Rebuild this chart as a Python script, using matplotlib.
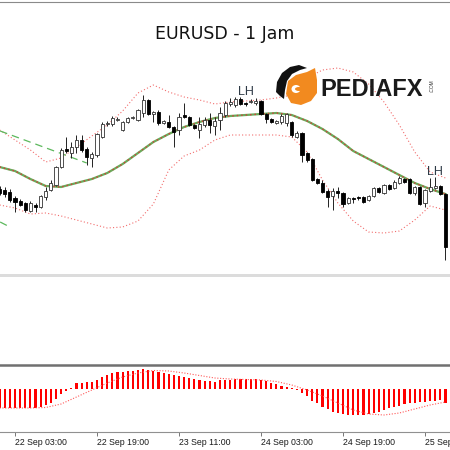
import numpy as np
import matplotlib
matplotlib.use('Agg')
import matplotlib.pyplot as plt
from matplotlib.patches import Polygon, Rectangle, Ellipse

# EURUSD H1 candles, one per hour starting 22 Sep 00:00
opens = [1.1711, 1.1710, 1.1708, 1.1702, 1.1699, 1.1697, 1.1689, 1.1695, 1.1693, 1.1703,
         1.1710, 1.1715, 1.1733, 1.1751, 1.1747, 1.1753, 1.1760, 1.1751, 1.1742, 1.1745,
         1.1763, 1.1776, 1.1776, 1.1780, 1.1770, 1.1778, 1.1782, 1.1780, 1.1787, 1.1800,
         1.1786, 1.1788, 1.1777, 1.1778, 1.1773, 1.1770, 1.1785, 1.1783, 1.1775, 1.1770,
         1.1775, 1.1780, 1.1774, 1.1780, 1.1785, 1.1796, 1.1795, 1.1801, 1.1797, 1.1798,
         1.1797, 1.1799, 1.1786, 1.1781, 1.1777, 1.1778, 1.1777, 1.1778, 1.1763, 1.1767,
         1.1747, 1.1741, 1.1721, 1.1717, 1.1709, 1.1704, 1.1709, 1.1707, 1.1697, 1.1702,
         1.1703, 1.1703, 1.1700, 1.1704, 1.1712, 1.1707, 1.1715, 1.1712, 1.1717, 1.1721,
         1.1721, 1.1707, 1.1713, 1.1697, 1.1709, 1.1712, 1.1714, 1.1706]
highs = [1.1714, 1.1713, 1.1711, 1.1704, 1.1701, 1.1698, 1.1699, 1.1697, 1.1705, 1.1713,
         1.1720, 1.1734, 1.1752, 1.1763, 1.1758, 1.1765, 1.1765, 1.1753, 1.1748, 1.1767,
         1.1778, 1.1779, 1.1784, 1.1783, 1.1779, 1.1783, 1.1784, 1.1791, 1.1805, 1.1801,
         1.1789, 1.1790, 1.1780, 1.1785, 1.1774, 1.1787, 1.1797, 1.1784, 1.1776, 1.1783,
         1.1783, 1.1787, 1.1783, 1.1793, 1.1799, 1.1802, 1.1803, 1.1803, 1.1798, 1.1801,
         1.1802, 1.1800, 1.1787, 1.1782, 1.1780, 1.1786, 1.1787, 1.1779, 1.1769, 1.1768,
         1.1748, 1.1742, 1.1722, 1.1720, 1.1711, 1.1712, 1.1713, 1.1708, 1.1703, 1.1703,
         1.1704, 1.1704, 1.1705, 1.1713, 1.1713, 1.1716, 1.1716, 1.1720, 1.1724, 1.1722,
         1.1722, 1.1714, 1.1714, 1.1711, 1.1722, 1.1723, 1.1715, 1.1707]
lows = [1.1705, 1.1703, 1.1698, 1.1688, 1.1694, 1.1688, 1.1688, 1.1688, 1.1692, 1.1700,
        1.1709, 1.1714, 1.1732, 1.1747, 1.1742, 1.1747, 1.1748, 1.1735, 1.1733, 1.1743,
        1.1762, 1.1774, 1.1774, 1.1779, 1.1769, 1.1777, 1.1781, 1.1779, 1.1783, 1.1785,
        1.1778, 1.1775, 1.1776, 1.1772, 1.1753, 1.1765, 1.1782, 1.1774, 1.1771, 1.1762,
        1.1773, 1.1767, 1.1765, 1.1770, 1.1783, 1.1794, 1.1793, 1.1795, 1.1794, 1.1797,
        1.1795, 1.1785, 1.1777, 1.1777, 1.1776, 1.1776, 1.1774, 1.1763, 1.1762, 1.1738,
        1.1738, 1.1719, 1.1716, 1.1707, 1.1693, 1.1690, 1.1702, 1.1693, 1.1696, 1.1697,
        1.1700, 1.1697, 1.1699, 1.1703, 1.1707, 1.1706, 1.1710, 1.1711, 1.1716, 1.1717,
        1.1706, 1.1705, 1.1695, 1.1693, 1.1708, 1.1711, 1.1705, 1.1640]
closes = [1.1707, 1.1706, 1.1700, 1.1698, 1.1695, 1.1690, 1.1697, 1.1693, 1.1704, 1.1709,
          1.1717, 1.1733, 1.1750, 1.1749, 1.1753, 1.1760, 1.1750, 1.1743, 1.1746, 1.1766,
          1.1776, 1.1777, 1.1782, 1.1781, 1.1778, 1.1782, 1.1783, 1.1790, 1.1800, 1.1786,
          1.1788, 1.1777, 1.1779, 1.1773, 1.1768, 1.1783, 1.1783, 1.1775, 1.1772, 1.1776,
          1.1780, 1.1775, 1.1779, 1.1787, 1.1797, 1.1798, 1.1801, 1.1796, 1.1796, 1.1799,
          1.1799, 1.1786, 1.1781, 1.1778, 1.1779, 1.1784, 1.1786, 1.1765, 1.1767, 1.1745,
          1.1740, 1.1720, 1.1717, 1.1708, 1.1703, 1.1709, 1.1707, 1.1696, 1.1702, 1.1701,
          1.1702, 1.1698, 1.1704, 1.1712, 1.1708, 1.1715, 1.1711, 1.1718, 1.1722, 1.1718,
          1.1707, 1.1713, 1.1696, 1.1710, 1.1713, 1.1714, 1.1706, 1.1653]

# bollinger bands + middle MA, read every 3rd bar
band_bars = [0, 3, 6, 9, 12, 15, 18, 21, 24, 27, 30, 33, 36, 39, 42,
             45, 48, 51, 54, 57, 60, 63, 66, 69, 72, 75, 78, 81, 84, 87]
ma_mid = [1.1733, 1.1729, 1.1721, 1.1714, 1.1713, 1.1717, 1.1721, 1.1727, 1.1736, 1.1747,
          1.1758, 1.1766, 1.1773, 1.1778, 1.1782, 1.1784, 1.1785, 1.1786, 1.1787, 1.1785,
          1.1779, 1.1771, 1.1761, 1.1749, 1.1741, 1.1733, 1.1725, 1.1717, 1.1711, 1.1706]
bb_upper = [1.1770, 1.1760, 1.1750, 1.1738, 1.1742, 1.1753, 1.1764, 1.1775, 1.1789, 1.1807,
            1.1815, 1.1808, 1.1803, 1.1800, 1.1796, 1.1798, 1.1799, 1.1800, 1.1802, 1.1805,
            1.1822, 1.1830, 1.1832, 1.1828, 1.1816, 1.1798, 1.1775, 1.1748, 1.1728, 1.1722]
bb_lower = [1.1695, 1.1692, 1.1686, 1.1687, 1.1684, 1.1680, 1.1676, 1.1672, 1.1673, 1.1679,
            1.1696, 1.1730, 1.1744, 1.1750, 1.1760, 1.1765, 1.1765, 1.1765, 1.1765, 1.1763,
            1.1748, 1.1720, 1.1697, 1.1679, 1.1668, 1.1667, 1.1669, 1.1680, 1.1694, 1.1690]

# green dashed channel lines on the left (bar index, price)
trend_up_bars = [0.1, 17.0]
trend_up_prices = [1.1769, 1.1737]
trend_lo_bars = [0.1, 2.0]
trend_lo_prices = [1.1678, 1.1673]

lh_bars = [48, 85]
lh_prices = [1.1808, 1.1728]

# MACD main (histogram) in points, signal every 3rd bar
macd_main = [-19, -19, -19, -19, -19, -19, -19, -19, -18, -16,
             -14, -10, -5, -1.5, 1, 6, 6.5, 7, 7.5, 9.5,
             12, 14.5, 16, 17, 17, 18, 18.5, 19, 20, 19,
             18.5, 17, 16, 15.5, 14.5, 13, 12, 11, 10, 9,
             8, 8, 7.5, 9, 9, 9.5, 10, 10.5, 10.5, 10.5,
             10, 9.5, 8, 6.5, 5, 3.5, 2, 1.5, -1, -4,
             -7, -12, -14, -18, -20, -23, -24, -25, -26, -26,
             -26, -26, -25, -24, -23, -21, -19, -18, -17, -15,
             -14, -14, -13, -13, -12, -12, -11, -14]
macd_signal = [-19, -19, -19, -18.5, -15, -8, -1, 6, 12, 16,
               18.5, 18, 16, 13.5, 11, 10, 9.5, 9, 7.5, 4,
               -1, -7, -14, -21, -25, -26, -24, -20, -16, -13]

tick_bars = [3, 19, 35, 51, 67, 83]
tick_labels = ['22 Sep 03:00', '22 Sep 19:00', '23 Sep 11:00',
               '24 Sep 03:00', '24 Sep 19:00', '25 Sep 11:00']


def fy(py):
    # pixel row (from top) -> figure fraction
    return 1 - py / 450.0


fig = plt.figure(figsize=(4.5, 4.5), dpi=100)
fig.patch.set_facecolor('white')
XLIM = (0.073, 87.88)

# ---- main price window
ax = fig.add_axes([0, fy(274), 1, 272 / 450.0])
ax.set_xlim(*XLIM)
ax.set_ylim(1.1626, 1.1898)
ax.set_xticks([])
ax.set_yticks([])
for side in ['left', 'right', 'bottom']:
    ax.spines[side].set_visible(False)
ax.spines['top'].set_color('#8a8a8a')
ax.spines['top'].set_linewidth(0.8)

x = np.arange(len(opens))
o = np.array(opens)
h = np.array(highs)
l = np.array(lows)
c = np.array(closes)
up = c >= o

ax.vlines(x, l, h, color='#222222', lw=0.7, zorder=3)
ax.bar(x[up], (c - o)[up], bottom=o[up], width=0.62, color='white',
       edgecolor='#333333', lw=0.6, zorder=4)
ax.bar(x[~up], (o - c)[~up], bottom=c[~up], width=0.62, color='black',
       edgecolor='black', lw=0.6, zorder=4)

# middle band: green line with red dots on top of it
ax.plot(band_bars, ma_mid, color='#6aaa5a', lw=1.6, zorder=2)
ax.plot(band_bars, ma_mid, color='#d83a3a', lw=1.0, ls=(0, (1, 2.2)), zorder=2)
ax.plot(band_bars, bb_upper, color='#f26d6d', lw=0.8, ls=(0, (1, 2)), zorder=2)
ax.plot(band_bars, bb_lower, color='#f26d6d', lw=0.8, ls=(0, (1, 2)), zorder=2)

ax.plot(trend_up_bars, trend_up_prices, color='#5cb85c', lw=0.9, ls=(0, (6, 4)))
ax.plot(trend_lo_bars, trend_lo_prices, color='#5cb85c', lw=0.9, ls=(0, (6, 4)))

for b, p in zip(lh_bars, lh_prices):
    ax.text(b, p, 'LH', ha='center', va='center', fontsize=9,
            color='#2e3a46', family='Liberation Sans', zorder=6)

# separator under the price window
fig.add_artist(Rectangle((0, fy(277)), 1, 3 / 450.0, transform=fig.transFigure,
                         color='#dcdcdc', lw=0))

# ---- MACD window
mac = fig.add_axes([0, fy(432), 1, 67 / 450.0])
mac.set_xlim(*XLIM)
mac.set_ylim(-43, 24)
mac.bar(x, macd_main, width=0.42, color='#ff0000', zorder=2)
mac.plot(band_bars, macd_signal, color='#ff5a5a', lw=0.8, ls=(0, (1, 1.5)), zorder=3)
mac.set_yticks([])
for side in ['left', 'right']:
    mac.spines[side].set_visible(False)
mac.spines['top'].set_color('#707070')
mac.spines['top'].set_linewidth(1.8)
mac.spines['bottom'].set_color('#909090')
mac.spines['bottom'].set_linewidth(0.8)
mac.set_xticks(tick_bars)
mac.set_xticklabels(tick_labels, family='Liberation Sans', fontsize=6.3, color='#1a1a1a')
for t in mac.get_xticklabels():
    t.set_horizontalalignment('left')
mac.tick_params(axis='x', direction='out', length=3, width=0.6, color='#606060', pad=1.5)

# ---- title
fig.text(0.5, fy(34), 'EURUSD - 1 Jam', ha='center', va='center',
         fontsize=12.5, color='#111111')

# ---- PEDIAFX logo
lg = fig.add_axes([0, 0, 1, 1], zorder=10)
lg.set_xlim(0, 450)
lg.set_ylim(450, 0)
lg.axis('off')
orange = Polygon([(288, 81), (296, 75), (307, 72), (315, 68), (317, 80), (317, 93),
                  (311, 101), (301, 105), (291, 103), (286, 94)],
                 closed=True, color='#f28a1f', lw=0)
lg.add_patch(orange)
lg.add_patch(Ellipse((296, 89), 9, 8, color='white', lw=0))
lg.add_patch(Ellipse((299, 89), 8, 4, color='#f28a1f', lw=0))
swoosh = Polygon([(276, 92), (277, 82), (282, 73), (290, 67), (299, 65), (307, 68),
                  (300, 70), (292, 74), (287, 81), (285, 90), (284, 99), (280, 96)],
                 closed=True, color='#111111', lw=0)
lg.add_patch(swoosh)
fig.text(320 / 450.0, fy(89), 'PEDIAFX', ha='left', va='center', fontsize=17,
         fontweight='bold', family='Liberation Sans', color='#1a1a1a', zorder=11)
fig.text(432 / 450.0, fy(86), '.COM', ha='center', va='center', fontsize=3.5,
         rotation=90, family='Liberation Sans', color='#333333', zorder=11)

fig.savefig('out.png', dpi=100, facecolor='white')
